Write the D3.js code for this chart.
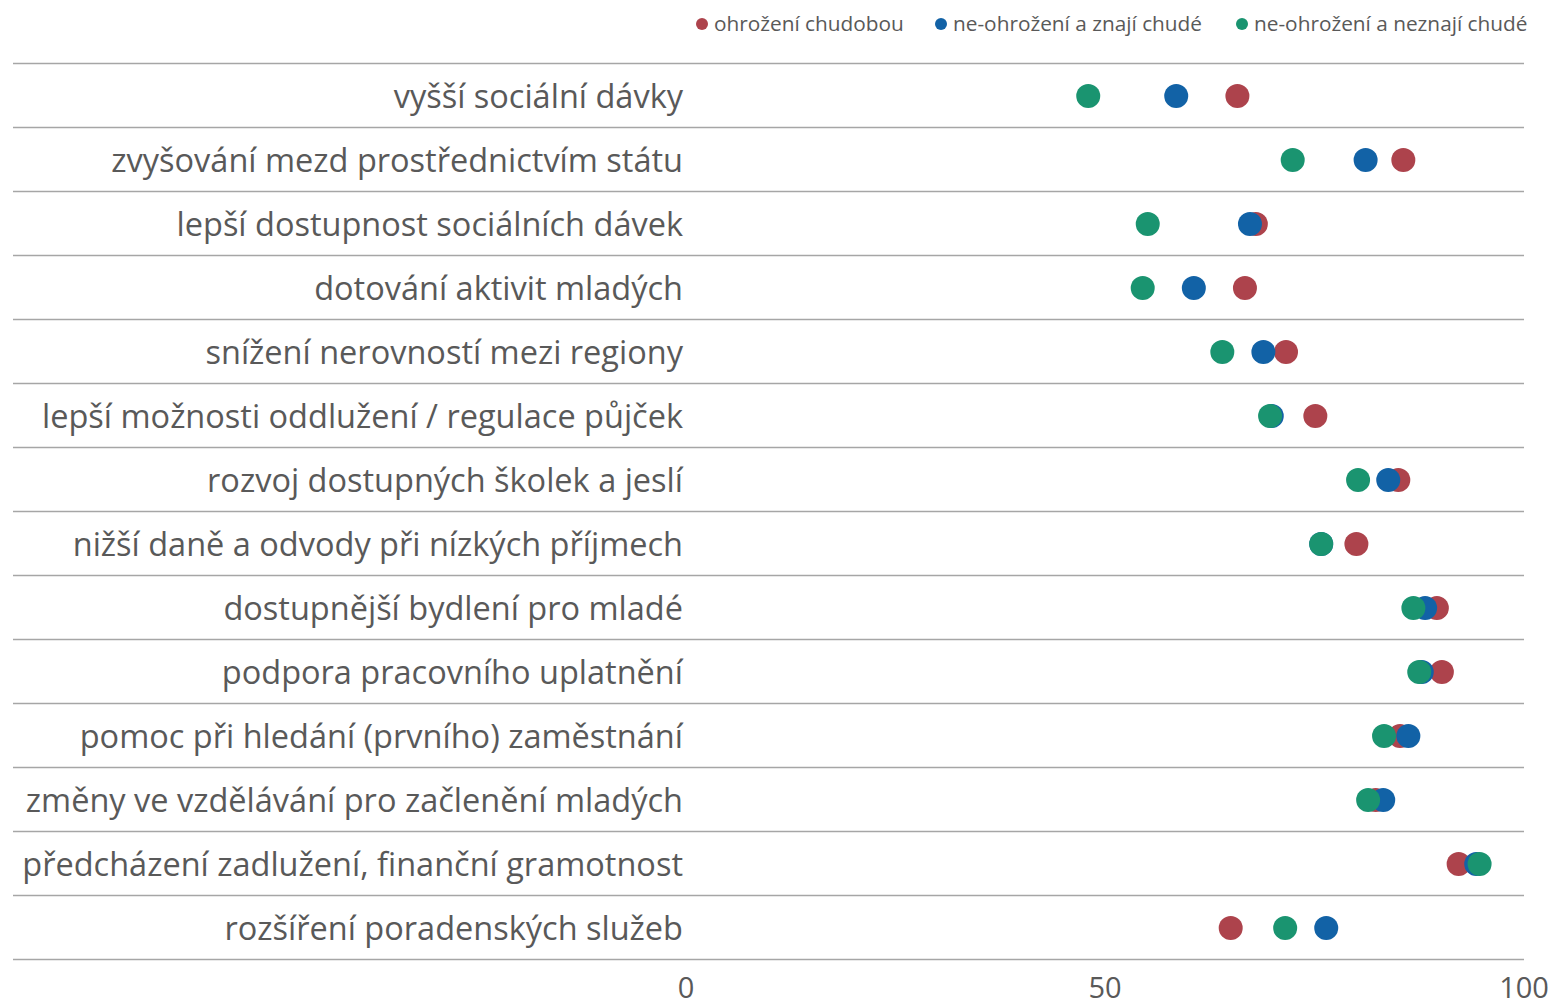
<!DOCTYPE html>
<html>
<head>
<meta charset="utf-8">
<script src="https://cdn.jsdelivr.net/npm/d3@7"></script>
<style>
  body { margin: 0; background: #fff; }
  text { font-family: "Open Sans", sans-serif; fill: #595959; }
</style>
</head>
<body>
<script>
// categories, top to bottom
var categories = [
  'vyšší sociální dávky',
  'zvyšování mezd prostřednictvím státu',
  'lepší dostupnost sociálních dávek',
  'dotování aktivit mladých',
  'snížení nerovností mezi regiony',
  'lepší možnosti oddlužení / regulace půjček',
  'rozvoj dostupných školek a jeslí',
  'nižší daně a odvody při nízkých příjmech',
  'dostupnější bydlení pro mladé',
  'podpora pracovního uplatnění',
  'pomoc při hledání (prvního) zaměstnání',
  'změny ve vzdělávání pro začlenění mladých',
  'předcházení zadlužení, finanční gramotnost',
  'rozšíření poradenských služeb'
];

var seriesNames = ['ohrožení chudobou', 'ne-ohrožení a znají chudé', 'ne-ohrožení a neznají chudé'];
var seriesColors = ['#ad434c', '#1262a6', '#1a9470'];

var ohrozeni = [65.8, 85.6, 68.0, 66.7, 71.6, 75.1, 85.0, 80.0, 89.6, 90.2, 85.2, 82.3, 92.2, 65.0];
var znajiChude = [58.5, 81.1, 67.3, 60.6, 68.9, 69.9, 83.8, 75.8, 88.2, 87.8, 86.2, 83.2, 94.3, 76.4];
var neznajiChude = [48.0, 72.4, 55.1, 54.5, 64.0, 69.7, 80.2, 75.8, 86.8, 87.5, 83.3, 81.4, 94.7, 71.5];

var seriesValues = [ohrozeni, znajiChude, neznajiChude];
var xTicks = [0, 50, 100];

var width = 1557, height = 1007;

var svg = d3.select('body')
    .append('svg')
    .attr('width', width)
    .attr('height', height);

var x = d3.scaleLinear().domain([0, 100]).range([686, 1524]);
var y = d3.scaleBand().domain(categories).range([63, 959]);

// grid lines between rows
var lines = d3.range(categories.length + 1).map(function(i) {
    return 63 + i * y.step();
});
svg.selectAll('line.grid')
    .data(lines)
    .enter()
    .append('line')
    .attr('class', 'grid')
    .attr('x1', 13)
    .attr('x2', 1524)
    .attr('y1', function(d) { return d + 0.5; })
    .attr('y2', function(d) { return d + 0.5; })
    .attr('stroke', '#a6a6a6')
    .attr('stroke-width', 1.3);

// category labels
svg.selectAll('text.cat')
    .data(categories)
    .enter()
    .append('text')
    .attr('class', 'cat')
    .attr('x', 683)
    .attr('y', function(d) { return y(d) + y.bandwidth() / 2 + 2; })
    .attr('dy', '0.35em')
    .attr('text-anchor', 'end')
    .style('font-size', '32.5px')
    .text(function(d) { return d; });

// x axis tick labels (kept inside the bottom edge)
svg.selectAll('text.tick')
    .data(xTicks)
    .enter()
    .append('text')
    .attr('class', 'tick')
    .attr('x', function(d) { return x(d); })
    .attr('y', 998)
    .attr('text-anchor', 'middle')
    .style('font-size', '29px')
    .text(function(d) { return d; });

// dots: red first, then blue, then green on top
seriesValues.forEach(function(vals, s) {
    svg.append('g')
        .selectAll('circle')
        .data(vals)
        .enter()
        .append('circle')
        .attr('cx', function(d) { return x(d); })
        .attr('cy', function(d, i) { return y(categories[i]) + y.bandwidth() / 2 + 1; })
        .attr('r', 12)
        .attr('fill', seriesColors[s]);
});

// legend
var legendX = [702, 941, 1242];
var legend = svg.selectAll('g.legend')
    .data(seriesNames)
    .enter()
    .append('g')
    .attr('class', 'legend')
    .attr('transform', function(d, i) { return 'translate(' + legendX[i] + ',24)'; });

legend.append('circle')
    .attr('r', 6)
    .attr('fill', function(d, i) { return seriesColors[i]; });

legend.append('text')
    .attr('x', 12)
    .attr('dy', '0.35em')
    .style('font-size', '20.8px')
    .text(function(d) { return d; });
</script>
</body>
</html>
